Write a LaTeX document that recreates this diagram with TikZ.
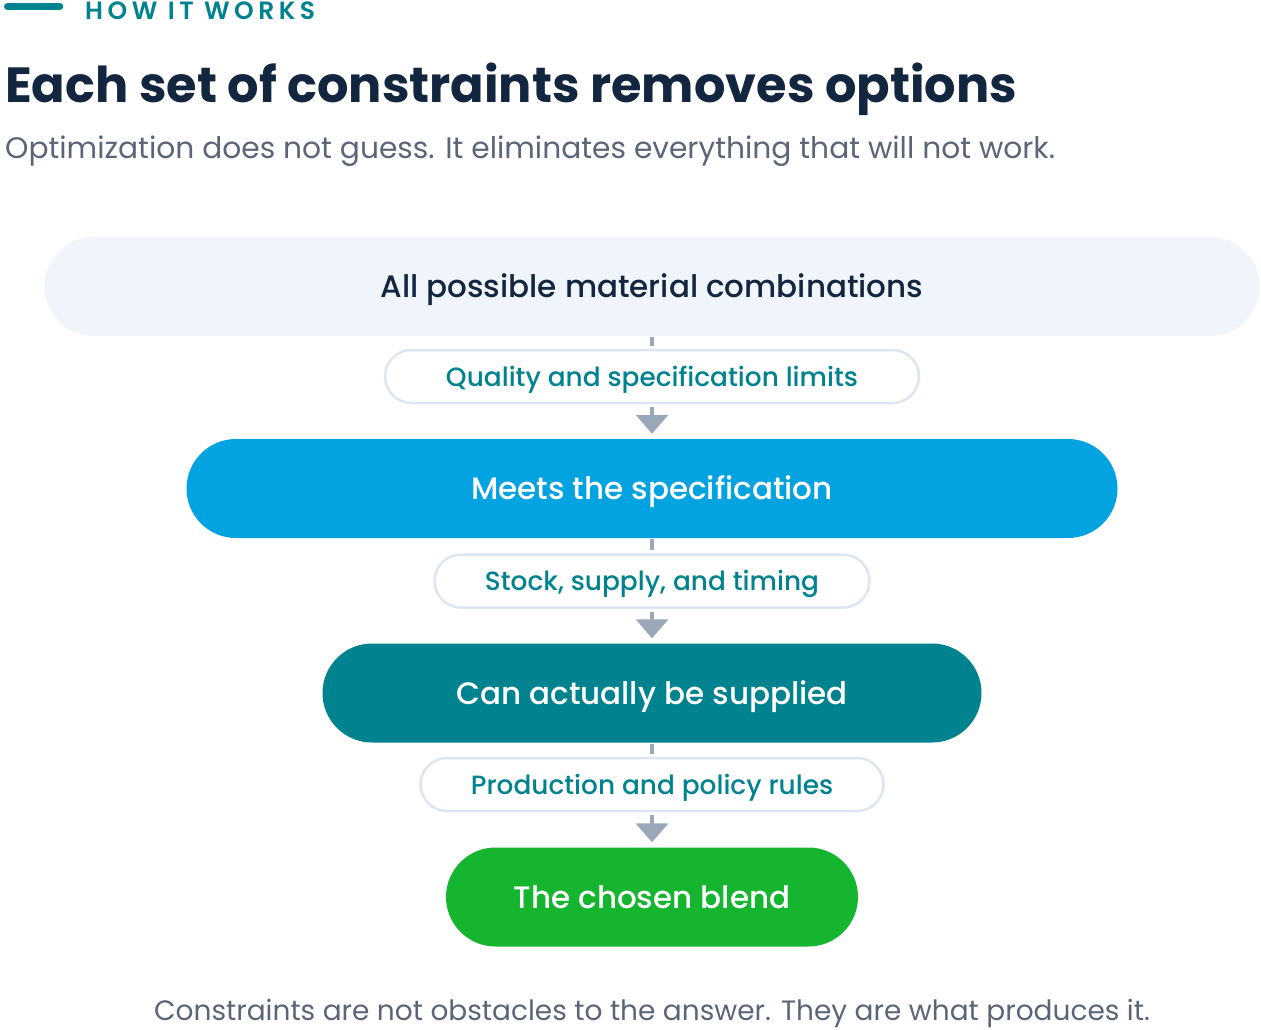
\documentclass[tikz,border=0pt]{standalone}
\usepackage{fontspec}
\setmainfont{Poppins}[BoldFont=* Bold]
\newfontfamily\popmed{Poppins}[UprightFont=* Medium]
\newfontfamily\popsemi{Poppins}[UprightFont=* SemiBold, LetterSpace=18]
\usetikzlibrary{arrows.meta}
\definecolor{navy}{HTML}{13263F}
\definecolor{slate}{HTML}{5B6577}
\definecolor{tealc}{HTML}{00838F}
\definecolor{skyc}{HTML}{03A3E1}
\definecolor{greenc}{HTML}{15B530}
\definecolor{mistc}{HTML}{F0F5FC}
\definecolor{edgec}{HTML}{DCE5F0}
\definecolor{flowc}{HTML}{9AA8BA}
\begin{document}
\begin{tikzpicture}
[
    x=1pt,y=-1pt,
    mypill/.style={rectangle,inner sep=0pt,minimum height=99pt,rounded corners=49.5pt,text height=22pt,text depth=0pt,font=\popmed\fontsize{31}{36}\selectfont},
    stage/.style={mypill,text=white},
    limit/.style={rectangle,inner sep=0pt,minimum height=53pt,rounded corners=26.5pt,draw=edgec,line width=2.5pt,fill=white,text=tealc,text height=19pt,text depth=0pt,font=\popmed\fontsize{26.4}{32}\selectfont},
    flow/.style={draw=flowc,line width=4pt},
    flowtip/.style={flow,-{Triangle[width=32pt,length=19pt]}},
]
\useasboundingbox (0,0) rectangle (1261,1029);

\draw[line width=7pt,line cap=round,tealc] (7.5,6.5) -- (59.8,6.5);
\node (kicker) at (85,19) [anchor=base west,inner sep=0pt,text=tealc,font=\popsemi\fontsize{25}{28}\selectfont] {HOW IT WORKS};
\node (title) at (5,102) [anchor=base west,inner sep=0pt,text=navy,font=\bfseries\fontsize{49.4}{56}\selectfont] {Each set of constraints removes options};
\node (sub) at (5,158) [anchor=base west,inner sep=0pt,text=slate,font=\fontsize{29.7}{34}\selectfont] {Optimization does not guess. It eliminates everything that will not work.};

\node (all) at (652,285) [mypill,minimum width=1215pt,fill=mistc,text=navy,yshift=-1.5pt] {All possible material combinations};
\node (lim1) at (652,376.5) [limit,minimum width=534pt] {Quality and specification limits};
\node (spec) at (652,488.5) [stage,minimum width=931pt,fill=skyc] {Meets the specification};
\node (lim2) at (652,581) [limit,minimum width=435pt] {Stock, supply, and timing};
\node (supp) at (652,693) [stage,minimum width=659pt,fill=tealc] {Can actually be supplied};
\node (lim3) at (652,784.5) [limit,minimum width=463pt] {Production and policy rules};
\node (blend) at (652,897) [stage,minimum width=412pt,fill=greenc] {The chosen blend};

\node (foot) at (652,1020) [anchor=base,inner sep=0pt,text=slate,font=\fontsize{28}{34}\selectfont] {Constraints are not obstacles to the answer. They are what produces it.};

\draw[flow,shorten <=1pt,shorten >=3pt] (all.south) -- (lim1.north);
\draw[flowtip,shorten <=3pt,shorten >=5pt] (lim1.south) -- (spec.north);
\draw[flow,shorten <=1pt,shorten >=3pt] (spec.south) -- (lim2.north);
\draw[flowtip,shorten <=3pt,shorten >=5pt] (lim2.south) -- (supp.north);
\draw[flow,shorten <=1pt,shorten >=3pt] (supp.south) -- (lim3.north);
\draw[flowtip,shorten <=3pt,shorten >=5pt] (lim3.south) -- (blend.north);
\end{tikzpicture}
\end{document}
